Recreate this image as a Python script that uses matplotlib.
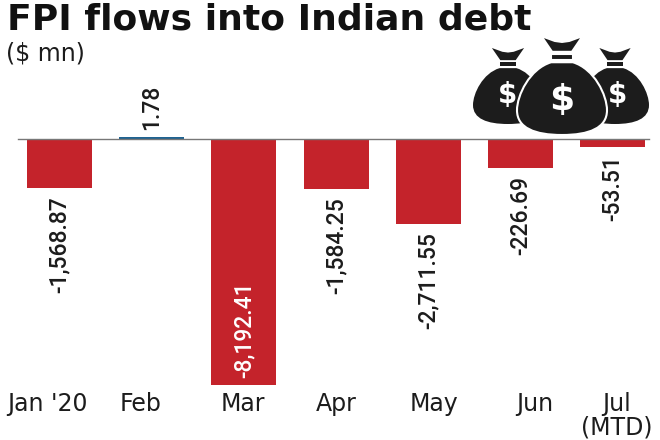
import matplotlib
matplotlib.use("Agg")
import matplotlib.pyplot as plt
from matplotlib.path import Path
from matplotlib.patches import PathPatch

# values printed on the chart
months = ["Jan '20", "Feb", "Mar", "Apr", "May", "Jun", "Jul\n(MTD)"]
value_labels = ["-1,568.87", "1.78", "-8,192.41", "-1,584.25", "-2,711.55", "-226.69", "-53.51"]
# bar lengths as drawn (the picture is not to scale for the small ones)
bar_heights = [-1618, 100, -8192, -1652, -2820, -951, -250]

RED = "#c4232b"
BLUE = "#1f6391"
DARK = "#1c1c1c"

# pixels -> data
PX_X = 92.2
PX_Y = 33.37
BASE_PX = 139.5
FIRST_PX = 59.5

fig = plt.figure(figsize=(6.6, 4.4), dpi=100)
ax = fig.add_axes([0, 0, 1, 1])
ax.set_xlim(-FIRST_PX / PX_X, (660 - FIRST_PX) / PX_X)
ax.set_ylim(-(440 - BASE_PX) * PX_Y, BASE_PX * PX_Y)
ax.axis("off")

x = list(range(len(months)))
colors = [BLUE if h > 0 else RED for h in bar_heights]
ax.bar(x, bar_heights, width=0.705, color=colors, zorder=2)
ax.plot([(18 - FIRST_PX) / PX_X, (649 - FIRST_PX) / PX_X], [0, 0], color="#777777", lw=1, zorder=3)

# value labels, rotated, offset from the bar end in points
label_font = dict(family="Roboto", fontsize=16.5, fontweight="medium", rotation=90)
for i, lab in enumerate(value_labels):
    h = bar_heights[i]
    if h > 0:
        ax.annotate(lab, (x[i], h), xytext=(0, 5), textcoords="offset points",
                    ha="center", va="bottom", color=DARK, **label_font)
    elif i == 2:
        ax.annotate(lab, (x[i], h), xytext=(0, 5), textcoords="offset points",
                    ha="center", va="bottom", color="white", zorder=4, **label_font)
    else:
        ax.annotate(lab, (x[i], h), xytext=(0, -6), textcoords="offset points",
                    ha="center", va="top", color=DARK, **label_font)

# month names are not centred on the bars
month_shift = [-12, -11, -1, 0, 6, 14, 4]
for i, m in enumerate(months):
    ax.annotate(m, (x[i], 0), xycoords="data", xytext=(month_shift[i] * 0.72, -(392 - BASE_PX) * 0.72),
                textcoords="offset points", ha="center", va="top", fontsize=17,
                family="DejaVu Sans", color=DARK, linespacing=0.95)

fig.text(7 / 660, 1 - 30 / 440, "FPI flows into Indian debt", fontsize=26, family="DejaVu Sans",
         fontweight="bold", color="#111111", ha="left", va="baseline")
fig.text(6 / 660, 1 - 60 / 440, "($ mn)", fontsize=17, family="DejaVu Sans", color=DARK, ha="left", va="baseline")

# money bags, overlay in pixel coordinates
ov = fig.add_axes([0, 0, 1, 1])
ov.set_xlim(0, 660)
ov.set_ylim(440, 0)
ov.axis("off")
ov.patch.set_alpha(0)


def bag(cx, top, w, h, zorder, edge=None):
    # cx centre, top of the tie, w body width, h total height
    def P(u, v):
        return (cx + u * w, top + v * h)
    neck = [
        (Path.MOVETO, P(-0.23, 0)), (Path.LINETO, P(-0.08, 0.05)), (Path.LINETO, P(0, 0.06)),
        (Path.LINETO, P(0.08, 0.05)), (Path.LINETO, P(0.23, 0)), (Path.LINETO, P(0.11, 0.16)),
        (Path.LINETO, P(-0.11, 0.16)), (Path.CLOSEPOLY, P(-0.23, 0)),
    ]
    knot = [
        (Path.MOVETO, P(-0.12, 0.185)), (Path.LINETO, P(0.12, 0.185)), (Path.LINETO, P(0.12, 0.24)),
        (Path.LINETO, P(-0.12, 0.24)), (Path.CLOSEPOLY, P(-0.12, 0.185)),
    ]
    body = [
        (Path.MOVETO, P(-0.12, 0.265)), (Path.LINETO, P(0.12, 0.265)),
        (Path.CURVE4, P(0.36, 0.33)), (Path.CURVE4, P(0.5, 0.6)), (Path.CURVE4, P(0.5, 0.75)),
        (Path.CURVE4, P(0.5, 0.93)), (Path.CURVE4, P(0.3, 1.0)), (Path.CURVE4, P(0, 1.0)),
        (Path.CURVE4, P(-0.3, 1.0)), (Path.CURVE4, P(-0.5, 0.93)), (Path.CURVE4, P(-0.5, 0.75)),
        (Path.CURVE4, P(-0.5, 0.6)), (Path.CURVE4, P(-0.36, 0.33)), (Path.CURVE4, P(-0.12, 0.265)),
        (Path.CLOSEPOLY, P(-0.12, 0.265)),
    ]
    for part in (neck, knot, body):
        codes, verts = zip(*part)
        ov.add_patch(PathPatch(Path(verts, codes), facecolor=DARK, edgecolor=edge or "none",
                               lw=1.5 if edge else 0, zorder=zorder))


def dollar(cx, cy, size, zorder):
    ov.text(cx, cy, "$", color="white", fontsize=size, fontweight="bold",
            ha="center", va="center", family="DejaVu Sans", zorder=zorder)


bag(508, 48, 70, 76, 5)
dollar(508, 95, 20, 5.5)
bag(615, 48, 68, 76, 5)
dollar(617, 95, 20, 5.5)
bag(562, 36, 90, 99, 6, edge="white")
dollar(562, 100, 26, 6.5)

fig.savefig("out.png", dpi=100)
